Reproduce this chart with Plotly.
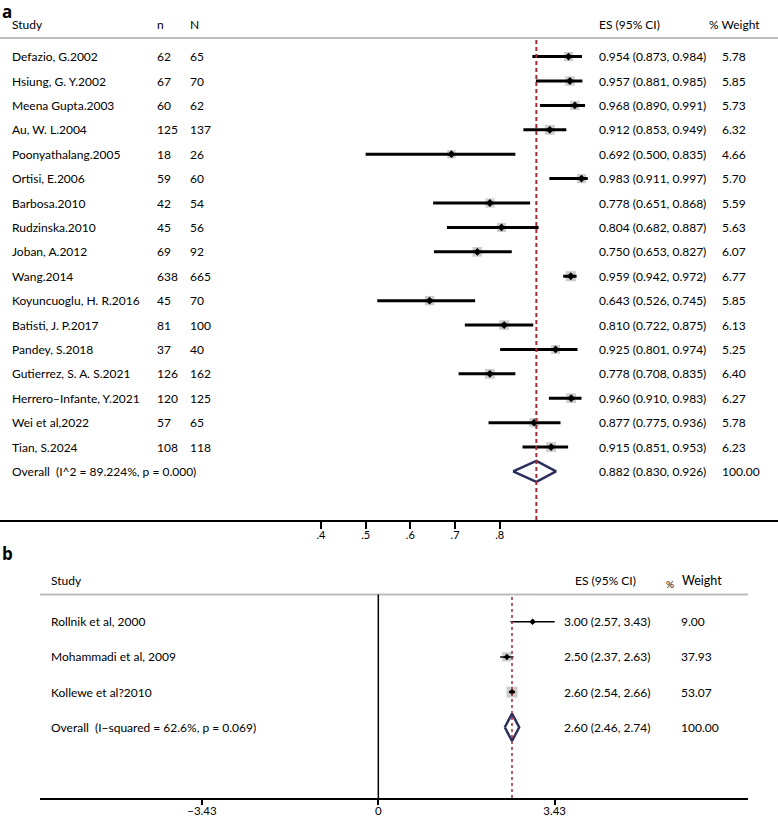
import math
import plotly.graph_objects as go

# ---- panel a data ----
studies_a = ["Defazio, G.2002", "Hsiung, G. Y.2002", "Meena Gupta.2003", "Au, W. L.2004",
             "Poonyathalang.2005", "Ortisi, E.2006", "Barbosa.2010", "Rudzinska.2010",
             "Joban, A.2012", "Wang.2014", "Koyuncuoglu, H. R.2016", "Batisti, J. P.2017",
             "Pandey, S.2018", "Gutierrez, S. A. S.2021", "Herrero\u2013Infante, Y.2021",
             "Wei et al,2022", "Tian, S.2024"]
n_a = [62, 67, 60, 125, 18, 59, 42, 45, 69, 638, 45, 81, 37, 126, 120, 57, 108]
N_a = [65, 70, 62, 137, 26, 60, 54, 56, 92, 665, 70, 100, 40, 162, 125, 65, 118]
es_a = [0.954, 0.957, 0.968, 0.912, 0.692, 0.983, 0.778, 0.804, 0.750, 0.959,
        0.643, 0.810, 0.925, 0.778, 0.960, 0.877, 0.915]
lo_a = [0.873, 0.881, 0.890, 0.853, 0.500, 0.911, 0.651, 0.682, 0.653, 0.942,
        0.526, 0.722, 0.801, 0.708, 0.910, 0.775, 0.851]
hi_a = [0.984, 0.985, 0.991, 0.949, 0.835, 0.997, 0.868, 0.887, 0.827, 0.972,
        0.745, 0.875, 0.974, 0.835, 0.983, 0.936, 0.953]
wt_a = [5.78, 5.85, 5.73, 6.32, 4.66, 5.70, 5.59, 5.63, 6.07, 6.77,
        5.85, 6.13, 5.25, 6.40, 6.27, 5.78, 6.23]
overall_a = (0.882, 0.830, 0.926)
overall_a_label = "Overall\u00a0\u00a0(I^2 = 89.224%, p = 0.000)"
ticks_a = [0.4, 0.5, 0.6, 0.7, 0.8]
ticklabels_a = [".4", ".5", ".6", ".7", ".8"]

# ---- panel b data ----
studies_b = ["Rollnik et al, 2000", "Mohammadi et al, 2009", "Kollewe et al?2010"]
es_b = [3.00, 2.50, 2.60]
lo_b = [2.57, 2.37, 2.54]
hi_b = [3.43, 2.63, 2.66]
wt_b = [9.00, 37.93, 53.07]
overall_b = (2.60, 2.46, 2.74)
overall_b_label = "Overall\u00a0\u00a0(I\u2212squared = 62.6%, p = 0.069)"
ticks_b = [-3.43, 0, 3.43]
ticklabels_b = ["\u22123.43", "0", "3.43"]

W, H = 778, 817
FONT_A = "Lato, Open Sans, sans-serif"
FONT_B = "Liberation Sans Narrow, Lato, sans-serif"
DASH_COL = "#9e2a3a"
NAVY = "#2b2f5c"
BOX = "#b9b9b9"

fig = go.Figure()

def add_panel(fig, es, lo, hi, wt, ov, xa, ya, box_k, lw, dsize, dh, dlw):
    rows = list(range(len(es)))
    # grey weight boxes
    fig.add_trace(go.Scatter(x=es, y=rows, mode="markers", xaxis=xa, yaxis=ya,
                             marker=dict(symbol="square", color=BOX,
                                         size=[box_k * math.sqrt(w) for w in wt]),
                             hoverinfo="skip"))
    # confidence intervals
    cx, cy = [], []
    for i in rows:
        cx += [lo[i], hi[i], None]
        cy += [i, i, None]
    fig.add_trace(go.Scatter(x=cx, y=cy, mode="lines", xaxis=xa, yaxis=ya,
                             line=dict(color="black", width=lw), hoverinfo="skip"))
    fig.add_trace(go.Scatter(x=es, y=rows, mode="markers", xaxis=xa, yaxis=ya,
                             marker=dict(symbol="diamond", color="black", size=dsize)))
    # pooled diamond
    r = len(es)
    fig.add_trace(go.Scatter(x=[ov[1], ov[0], ov[2], ov[0], ov[1]],
                             y=[r, r - dh, r, r + dh, r], mode="lines",
                             xaxis=xa, yaxis=ya,
                             line=dict(color=NAVY, width=dlw), hoverinfo="skip"))

add_panel(fig, es_a, lo_a, hi_a, wt_a, overall_a, "x", "y", 4.3, 3, 6, 0.43, 2.5)
add_panel(fig, es_b, lo_b, hi_b, wt_b, overall_b, "x2", "y2", 1.65, 1.5, 5, 0.39, 2.5)

ann = []
def txt(x, y, s, yref, font, size=12, xref="paper", xanchor="left"):
    ann.append(dict(x=x, y=y, xref=xref, yref=yref, text=s, showarrow=False,
                    xanchor=xanchor, yanchor="middle",
                    font=dict(family=font, size=size, color="#000")))

# panel a text
hdr_a = -1.3
txt(10 / W, hdr_a, "Study", "y", FONT_A)
txt(155 / W, hdr_a, "n", "y", FONT_A)
txt(188 / W, hdr_a, "N", "y", FONT_A)
txt(597 / W, hdr_a, "ES (95% CI)", "y", FONT_A)
txt(707 / W, hdr_a, "% Weight", "y", FONT_A)
for i, s in enumerate(studies_a):
    txt(10 / W, i, s, "y", FONT_A)
    txt(155 / W, i, str(n_a[i]), "y", FONT_A)
    txt(188 / W, i, str(N_a[i]), "y", FONT_A)
    txt(597 / W, i, f"{es_a[i]:.3f} ({lo_a[i]:.3f}, {hi_a[i]:.3f})", "y", FONT_A)
    txt(720 / W, i, f"{wt_a[i]:.2f}", "y", FONT_A)
r = len(studies_a)
txt(10 / W, r, overall_a_label, "y", FONT_A)
txt(597 / W, r, f"{overall_a[0]:.3f} ({overall_a[1]:.3f}, {overall_a[2]:.3f})", "y", FONT_A)
txt(720 / W, r, "100.00", "y", FONT_A)

# panel b text
hdr_b = -1.16
txt(49 / W, hdr_b, "Study", "y2", FONT_B)
txt(573 / W, hdr_b, "ES (95% CI)", "y2", FONT_B)
txt(664 / W, hdr_b + 0.08, "%", "y2", FONT_B, 10)
txt(680 / W, hdr_b, "Weight", "y2", FONT_B, 12.5)
for i, s in enumerate(studies_b):
    txt(49 / W, i, s, "y2", FONT_B)
    txt(562 / W, i, f"{es_b[i]:.2f} ({lo_b[i]:.2f}, {hi_b[i]:.2f})", "y2", FONT_B)
    txt(679 / W, i, f"{wt_b[i]:.2f}", "y2", FONT_B)
r = len(studies_b)
txt(49 / W, r, overall_b_label, "y2", FONT_B)
txt(562 / W, r, f"{overall_b[0]:.2f} ({overall_b[1]:.2f}, {overall_b[2]:.2f})", "y2", FONT_B)
txt(679 / W, r, "100.00", "y2", FONT_B)

# panel labels
ann.append(dict(x=0, y=1 - 11 / H, xref="paper", yref="paper", text="<b>a</b>",
                showarrow=False, xanchor="left", yanchor="middle",
                font=dict(family="Open Sans, sans-serif", size=17, color="black")))
ann.append(dict(x=0, y=1 - 553 / H, xref="paper", yref="paper", text="<b>b</b>",
                showarrow=False, xanchor="left", yanchor="middle",
                font=dict(family="Open Sans, sans-serif", size=17, color="black")))

sep_a = 1 - 38 / H
sep_b = 1 - 594.5 / H
shapes = [
    dict(type="line", xref="paper", yref="paper", x0=0, x1=1, y0=sep_a, y1=sep_a,
         line=dict(color="#bdbdbd", width=2)),
    dict(type="line", xref="paper", yref="paper", x0=40 / W, x1=748 / W, y0=sep_b, y1=sep_b,
         line=dict(color="#bdbdbd", width=2)),
    dict(type="line", xref="x", yref="paper", x0=overall_a[0], x1=overall_a[0],
         y0=1 - 520 / H, y1=1 - 39 / H, line=dict(color=DASH_COL, width=2, dash="4px,3px")),
    dict(type="line", xref="x2", yref="paper", x0=0, x1=0,
         y0=1 - 798 / H, y1=sep_b, line=dict(color="black", width=1.5)),
    dict(type="line", xref="x2", yref="paper", x0=overall_b[0], x1=overall_b[0],
         y0=1 - 798 / H, y1=sep_b, line=dict(color=DASH_COL, width=1.5, dash="3px,3px")),
]

fig.update_layout(
    width=W, height=H, margin=dict(l=0, r=0, t=0, b=0),
    paper_bgcolor="white", plot_bgcolor="white", showlegend=False,
    annotations=ann, shapes=shapes,
    xaxis=dict(domain=[0, 1], range=[-0.318, 1.4226], anchor="y",
               tickvals=ticks_a, ticktext=ticklabels_a, ticks="outside", ticklen=7,
               tickwidth=1.5, tickcolor="black", showline=True, linecolor="black",
               linewidth=2, showgrid=False, zeroline=False, ticklabelstandoff=-3,
               tickfont=dict(family=FONT_A, size=11, color="#000")),
    yaxis=dict(domain=[1 - 520 / H, 1], range=[18.99, -2.32], visible=False,
               showgrid=False, zeroline=False),
    xaxis2=dict(domain=[40 / W, 748 / W], range=[-6.58, 7.19], anchor="y2",
                tickvals=ticks_b, ticktext=ticklabels_b, ticks="outside", ticklen=5,
                tickwidth=1.5, tickcolor="black", showline=True, linecolor="black",
                linewidth=2, showgrid=False, zeroline=False, ticklabelstandoff=-4,
                tickfont=dict(family=FONT_B, size=11.5, color="#000")),
    yaxis2=dict(domain=[1 - 798.3 / H, 1 - 540 / H], range=[5.017, -2.32], visible=False,
                showgrid=False, zeroline=False),
)

fig.write_html("out.html", config={"displayModeBar": False},
               post_script="document.body.style.margin='0';")
